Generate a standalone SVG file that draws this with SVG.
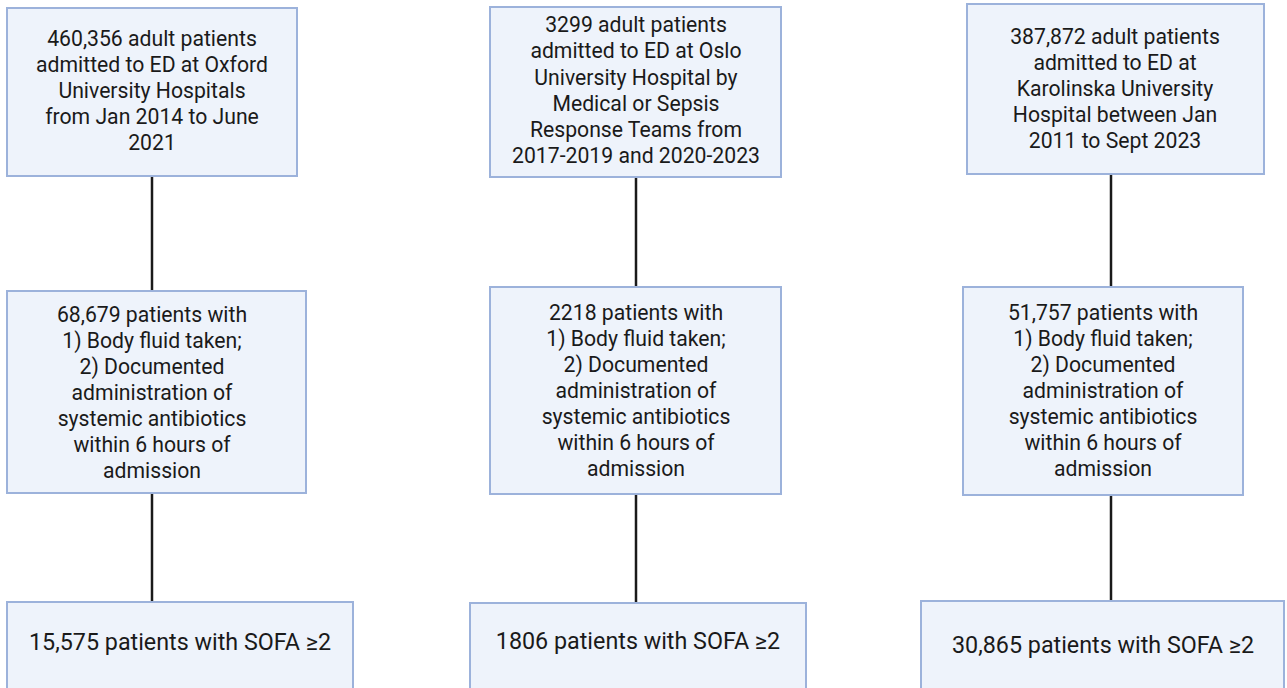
<svg xmlns="http://www.w3.org/2000/svg" width="1287" height="688" viewBox="0 0 1287 688">
<style>
.box{fill:#EEF3FB;stroke:#9CB2DB;stroke-width:2}
.t{font-family:Roboto,"Liberation Sans",sans-serif;font-size:21.2px;fill:#1a1a1a;text-anchor:middle}
.b{font-size:23.3px}
.c{stroke:#1a1a1a;stroke-width:2.5;fill:none}
</style>
<rect width="1287" height="688" fill="#fff"/>
<g id="connectors">
<line class="c" x1="152" y1="177" x2="152" y2="291"/>
<line class="c" x1="152" y1="493" x2="152" y2="602"/>
<line class="c" x1="636" y1="177" x2="636" y2="287"/>
<line class="c" x1="636" y1="494" x2="636" y2="603"/>
<line class="c" x1="1111" y1="174" x2="1111" y2="287"/>
<line class="c" x1="1111" y1="495" x2="1111" y2="601"/>
</g>
<g id="oxford-cohort">
<rect class="box" x="7" y="8" width="290" height="168"/>
<text class="t" x="152" y="46">460,356 adult patients</text>
<text class="t" x="152" y="72">admitted to ED at Oxford</text>
<text class="t" x="152" y="98">University Hospitals</text>
<text class="t" x="152" y="124">from Jan 2014 to June</text>
<text class="t" x="152" y="150">2021</text>
</g>
<g id="oslo-cohort">
<rect class="box" x="490" y="7" width="291" height="170"/>
<text class="t" x="636" y="32">3299 adult patients</text>
<text class="t" x="636" y="58">admitted to ED at Oslo</text>
<text class="t" x="636" y="85">University Hospital by</text>
<text class="t" x="636" y="111">Medical or Sepsis</text>
<text class="t" x="636" y="137">Response Teams from</text>
<text class="t" x="636" y="163">2017-2019 and 2020-2023</text>
</g>
<g id="karolinska-cohort">
<rect class="box" x="967" y="4" width="297" height="170"/>
<text class="t" x="1115" y="44">387,872 adult patients</text>
<text class="t" x="1115" y="70">admitted to ED at</text>
<text class="t" x="1115" y="96">Karolinska University</text>
<text class="t" x="1115" y="122">Hospital between Jan</text>
<text class="t" x="1115" y="148">2011 to Sept 2023</text>
</g>
<g id="oxford-antibiotics">
<rect class="box" x="7" y="291" width="299" height="202"/>
<text class="t" x="152" y="322">68,679 patients with</text>
<text class="t" x="152" y="348">1) Body fluid taken;</text>
<text class="t" x="152" y="374">2) Documented</text>
<text class="t" x="152" y="400">administration of</text>
<text class="t" x="152" y="426">systemic antibiotics</text>
<text class="t" x="152" y="452">within 6 hours of</text>
<text class="t" x="152" y="478">admission</text>
</g>
<g id="oslo-antibiotics">
<rect class="box" x="490" y="287" width="291" height="207"/>
<text class="t" x="636" y="320">2218 patients with</text>
<text class="t" x="636" y="346">1) Body fluid taken;</text>
<text class="t" x="636" y="372">2) Documented</text>
<text class="t" x="636" y="398">administration of</text>
<text class="t" x="636" y="424">systemic antibiotics</text>
<text class="t" x="636" y="450">within 6 hours of</text>
<text class="t" x="636" y="476">admission</text>
</g>
<g id="karolinska-antibiotics">
<rect class="box" x="963" y="287" width="280" height="208"/>
<text class="t" x="1103" y="320">51,757 patients with</text>
<text class="t" x="1103" y="346">1) Body fluid taken;</text>
<text class="t" x="1103" y="372">2) Documented</text>
<text class="t" x="1103" y="398">administration of</text>
<text class="t" x="1103" y="424">systemic antibiotics</text>
<text class="t" x="1103" y="450">within 6 hours of</text>
<text class="t" x="1103" y="476">admission</text>
</g>
<g id="oxford-sofa">
<rect class="box" x="7" y="602" width="346" height="100"/>
<text class="t b" x="180" y="650">15,575 patients with SOFA ≥2</text>
</g>
<g id="oslo-sofa">
<rect class="box" x="470" y="603" width="336" height="100"/>
<text class="t b" x="638" y="649">1806 patients with SOFA ≥2</text>
</g>
<g id="karolinska-sofa">
<rect class="box" x="921" y="601" width="363" height="100"/>
<text class="t b" x="1103" y="653">30,865 patients with SOFA ≥2</text>
</g>
</svg>
